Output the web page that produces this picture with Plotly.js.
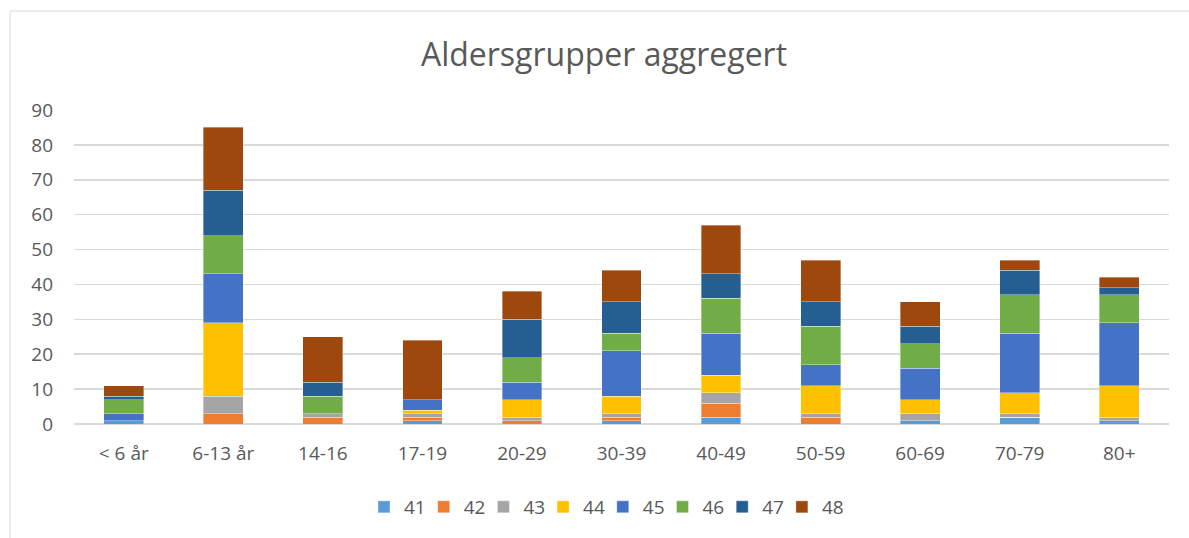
<!DOCTYPE html>
<html>
<head>
<meta charset="utf-8">
<script src="https://cdn.plot.ly/plotly-3.0.1.min.js"></script>
<style>html,body{margin:0;padding:0;background:#fff;}#chart{width:1189px;height:538px;}</style>
</head>
<body>
<div id="chart"></div>
<script>
const categories = ["< 6 år","6-13 år","14-16","17-19","20-29","30-39","40-49","50-59","60-69","70-79","80+"];
const seriesNames = ["41","42","43","44","45","46","47","48"];
const s41 = [1,0,0,1,0,1,2,0,1,2,1];
const s42 = [0,3,2,1,1,1,4,2,0,0,0];
const s43 = [0,5,1,1,1,1,3,1,2,1,1];
const s44 = [0,21,0,1,5,5,5,8,4,6,9];
const s45 = [2,14,0,3,5,13,12,6,9,17,18];
const s46 = [4,11,5,0,7,5,10,11,7,11,8];
const s47 = [1,13,4,0,11,9,7,7,5,7,2];
const s48 = [3,18,13,17,8,9,14,12,7,3,3];
const seriesValues = [s41,s42,s43,s44,s45,s46,s47,s48];
const colors = ["#5B9BD5","#ED7D31","#A5A5A5","#FFC000","#4472C4","#70AD47","#255E91","#9E480E"];
const yTicks = [0,10,20,30,40,50,60,70,80,90];

const font = "Open Sans, Noto Sans, sans-serif";
const legendIds = seriesNames.map((n,i)=> i === 0 ? "legend" : "legend" + (i+1));
const traces = seriesNames.map((n,i)=>({
  type:"bar", name:n, x:categories, y:seriesValues[i],
  legend: legendIds[i],
  marker:{color:colors[i], line:{color:"rgba(255,255,255,0.6)", width:0.6}},
  hoverinfo:"x+y+name"
}));

const legendFont = {family:font, size:19, color:"#595959"};
const layout = {
  width:1189, height:538,
  paper_bgcolor:"#fff", plot_bgcolor:"#fff",
  barmode:"stack", bargap:0.6,
  margin:{l:74, r:20, t:110, b:114, autoexpand:false},
  title:{text:"Aldersgrupper aggregert", font:{family:font, size:32, color:"#595959"},
         x:604/1189, xanchor:"center", xref:"container", y:1-55/538, yanchor:"middle", yref:"container"},
  xaxis:{type:"category", tickfont:{family:font, size:19, color:"#595959"}, showline:false,
         showgrid:false, zeroline:false, ticks:"", ticklabelstandoff:16, automargin:false, tickangle:0},
  yaxis:{range:[0,90], tickvals:yTicks, ticktext:yTicks.map(String), showgrid:true, gridcolor:"#D9D9D9", gridwidth:1.5,
         zeroline:true, zerolinecolor:"#D9D9D9", zerolinewidth:1.5, showline:false, ticks:"",
         tickfont:{family:font, size:19, color:"#595959"}, ticklabelstandoff:20, automargin:false},
  shapes:[
    {type:"line", xref:"paper", yref:"paper", x0:-64/1095, x1:1.1, y0:1+99/314, y1:1+99/314, line:{color:"#D9D9D9", width:1}},
    {type:"line", xref:"paper", yref:"paper", x0:-64/1095, x1:-64/1095, y0:1+99/314, y1:-1, line:{color:"#D9D9D9", width:1}}
  ],
  showlegend:true
};
legendIds.forEach((id,i)=>{
  const left = 364 + i*59.7;
  layout[id] = {orientation:"h", x:(left-74)/1095, xanchor:"left", y:-83/314, yanchor:"middle",
                font:legendFont, itemwidth:30, bgcolor:"rgba(0,0,0,0)"};
});
Plotly.newPlot("chart", traces, layout, {displayModeBar:false, staticPlot:true});
</script>
</body>
</html>
